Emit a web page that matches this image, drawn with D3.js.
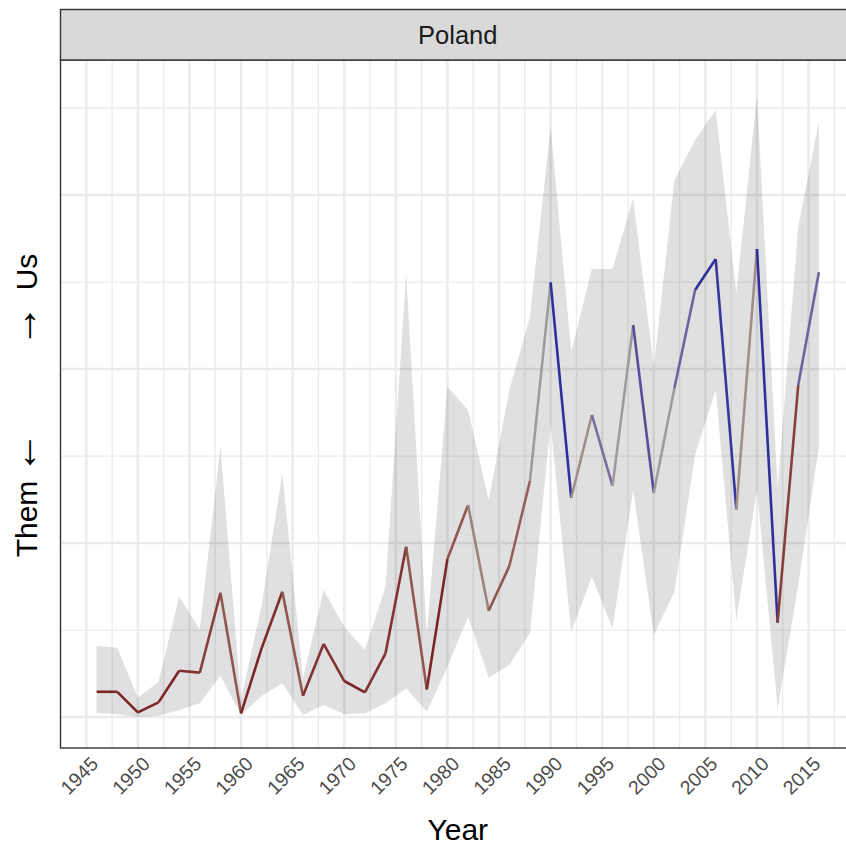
<!DOCTYPE html>
<html>
<head>
<meta charset="utf-8">
<script src="https://cdn.jsdelivr.net/npm/d3@7"></script>
<style>
	body { margin: 0; background: #fff; }
	text { font-family: "Liberation Sans", Arial, sans-serif; }
</style>
</head>
<body>
<div id="chart"></div>
<script>
var country = "Poland";

var years = [1946, 1948, 1950, 1952, 1954, 1956, 1958, 1960, 1962, 1964, 1966, 1968,
	1970, 1972, 1974, 1976, 1978, 1980, 1982, 1984, 1986, 1988, 1990, 1992,
	1994, 1996, 1998, 2000, 2002, 2004, 2006, 2008, 2010, 2012, 2014, 2016];

var score = [0.145, 0.145, 0.027, 0.084, 0.266, 0.255, 0.714, 0.021, 0.397, 0.720, 0.122, 0.420,
	0.207, 0.142, 0.366, 0.979, 0.159, 0.908, 1.218, 0.611, 0.868, 1.358, 2.498, 1.260,
	1.736, 1.328, 2.253, 1.289, 1.891, 2.454, 2.632, 1.194, 2.690, 0.542, 1.908, 2.556];

var lower = [0.025, 0.016, 0.000, 0.007, 0.040, 0.079, 0.236, 0.011, 0.121, 0.194, 0.011, 0.069,
	0.016, 0.021, 0.079, 0.165, 0.030, 0.289, 0.576, 0.226, 0.299, 0.481, 1.688, 0.490,
	0.806, 0.510, 1.305, 0.471, 0.720, 1.506, 1.879, 0.557, 1.305, 0.050, 0.759, 1.553];

var upper = [0.410, 0.398, 0.111, 0.203, 0.691, 0.504, 1.553, 0.098, 0.644, 1.401, 0.222, 0.730,
	0.519, 0.385, 0.749, 2.550, 0.483, 1.898, 1.764, 1.247, 1.879, 2.301, 3.391, 2.098,
	2.575, 2.575, 2.981, 2.013, 3.086, 3.316, 3.489, 2.435, 3.575, 1.316, 2.818, 3.421];

//	-1 = "them" (red), 0 = neutral (grey), 1 = "us" (blue)
var tone = [-1, -1, -1, -1, -0.9, -0.8, -0.6, -1, -0.95, -0.6, -0.9, -0.9,
	-1, -0.9, -0.9, -0.6, -1, -0.6, -0.2, -0.6, -0.5, 0, 1, -0.1,
	0.4, 0, 0.7, 0, 0.5, 1, 0.95, -0.1, 1, -0.8, 0.5, 0.5];

var xTicks = [1945, 1950, 1955, 1960, 1965, 1970, 1975, 1980, 1985, 1990, 1995, 2000, 2005, 2010, 2015];
var xMinor = [1947.5, 1952.5, 1957.5, 1962.5, 1967.5, 1972.5, 1977.5, 1982.5, 1987.5, 1992.5, 1997.5, 2002.5, 2007.5, 2012.5, 2017.5];
var yTicks = [0, 1, 2, 3];
var yMinor = [0.5, 1.5, 2.5, 3.5];

var W = 846, H = 846;
var pLeft = 60.5, pRight = 855, pTop = 60, pBottom = 748;

var svg = d3.select("#chart")
	.append("svg")
	.attr("width", W)
	.attr("height", H)
	.attr("display", "block");

var x = d3.scaleLinear().domain([1942.5, 2019.5]).range([pLeft, pRight]);
var y = d3.scaleLinear().domain([-0.178, 3.776]).range([pBottom, pTop]);

var color = d3.scaleLinear()
	.domain([-1, 0, 1])
	.range(["#7c2527", "#a09a9a", "#30309a"])
	.interpolate(d3.interpolateLab);

var data = years.map(function(d, i) {
	return {year: d, score: score[i], lo: lower[i], hi: upper[i], tone: tone[i]};
});

grid();
ribbon();
lines();
frame();
labels();

function grid() {
	var g = svg.append("g");

	g.selectAll(".vminor").data(xMinor).enter().append("line")
		.attr("x1", x).attr("x2", x)
		.attr("y1", pTop).attr("y2", pBottom)
		.attr("stroke", "#ebebeb")
		.attr("stroke-width", 1.3);

	g.selectAll(".hminor").data(yMinor).enter().append("line")
		.attr("x1", pLeft).attr("x2", pRight)
		.attr("y1", y).attr("y2", y)
		.attr("stroke", "#ebebeb")
		.attr("stroke-width", 1.3);

	g.selectAll(".vmajor").data(xTicks).enter().append("line")
		.attr("x1", x).attr("x2", x)
		.attr("y1", pTop).attr("y2", pBottom)
		.attr("stroke", "#ebebeb")
		.attr("stroke-width", 2.4);

	g.selectAll(".hmajor").data(yTicks).enter().append("line")
		.attr("x1", pLeft).attr("x2", pRight)
		.attr("y1", y).attr("y2", y)
		.attr("stroke", "#ebebeb")
		.attr("stroke-width", 2.4);
}

function ribbon() {
	var area = d3.area()
		.x(function(d) { return x(d.year); })
		.y0(function(d) { return y(d.lo); })
		.y1(function(d) { return y(d.hi); });

	svg.append("path")
		.datum(data)
		.attr("d", area)
		.attr("fill", "#000")
		.attr("fill-opacity", 0.12);
}

function lines() {
	var line = d3.line()
		.x(function(d) { return x(d.year); })
		.y(function(d) { return y(d.score); });

	//	each segment takes the colour of its starting point
	var segs = d3.pairs(data);

	svg.append("g").selectAll("path")
		.data(segs)
		.enter().append("path")
		.attr("d", line)
		.attr("fill", "none")
		.attr("stroke", function(d) { return color(d[0].tone); })
		.attr("stroke-width", 2.6);
}

function frame() {
	//	panel border (right side runs off the canvas)
	svg.append("rect")
		.attr("x", pLeft)
		.attr("y", pTop)
		.attr("width", pRight - pLeft)
		.attr("height", pBottom - pTop)
		.attr("fill", "none")
		.attr("stroke", "#333")
		.attr("stroke-width", 1.4);

	//	facet strip
	svg.append("rect")
		.attr("x", pLeft)
		.attr("y", 9.5)
		.attr("width", pRight - pLeft)
		.attr("height", pTop - 9.5)
		.attr("fill", "#d9d9d9")
		.attr("stroke", "#333")
		.attr("stroke-width", 1.4);

	svg.append("text")
		.attr("x", (pLeft + pRight) / 2)
		.attr("y", 35)
		.attr("text-anchor", "middle")
		.attr("dominant-baseline", "central")
		.attr("font-size", 25.5)
		.attr("fill", "#1a1a1a")
		.text(country);
}

function labels() {
	svg.append("g").selectAll("text")
		.data(xTicks)
		.enter().append("text")
		.attr("transform", function(d) {
			return "translate(" + (x(d) + 3) + "," + 755 + ") rotate(-45)";
		})
		.attr("text-anchor", "end")
		.attr("dominant-baseline", "hanging")
		.attr("font-size", 19.5)
		.attr("fill", "#4d4d4d")
		.text(function(d) { return d; });

	svg.append("text")
		.attr("x", (pLeft + pRight) / 2)
		.attr("y", 840)
		.attr("text-anchor", "middle")
		.attr("font-size", 30)
		.attr("fill", "#000")
		.text("Year");

	//	y title "Them ←   → Us", rotated, spread along the panel
	var yTitle = [
		{t: "Them", c: 519, s: 30},
		{t: "\u2190", c: 453, s: 42},
		{t: "\u2192", c: 326, s: 42},
		{t: "Us", c: 272, s: 30}
	];

	svg.append("g").selectAll("text")
		.data(yTitle)
		.enter().append("text")
		.attr("transform", function(d) { return "translate(37," + d.c + ") rotate(-90)"; })
		.attr("text-anchor", "middle")
		.attr("font-family", function(d) { return d.t.length == 1 ? "DejaVu Sans" : null; })
		.attr("font-size", function(d) { return d.s; })
		.attr("fill", "#000")
		.text(function(d) { return d.t; });
}
</script>
</body>
</html>
